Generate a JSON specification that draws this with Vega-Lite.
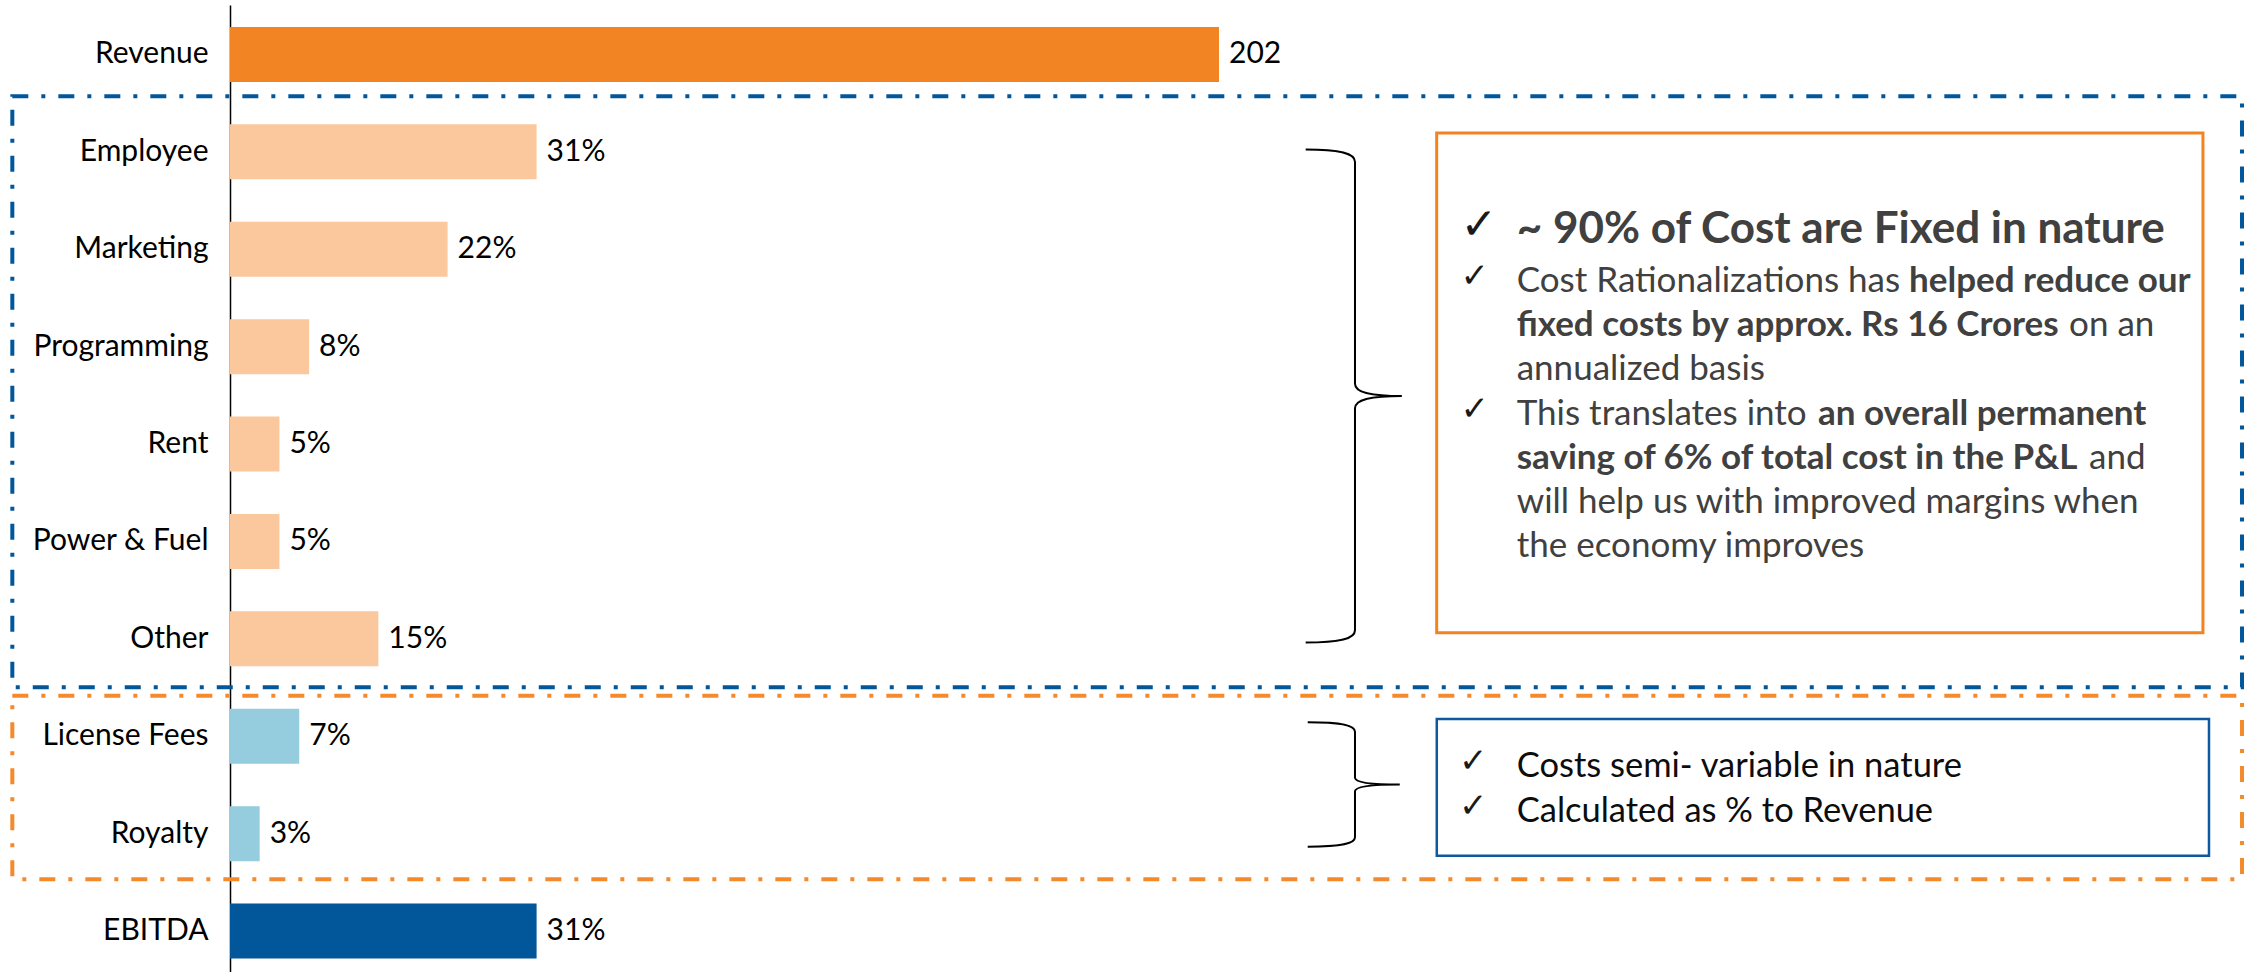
{
  "$schema": "https://vega.github.io/schema/vega-lite/v6.json",
  "width": 2014,
  "height": 967,
  "autosize": "none",
  "padding": {"left": 230, "top": 5, "right": 0, "bottom": 0},
  "config": {"view": {"stroke": null}, "font": "Lato"},
  "datasets": {
    "costs": [
      {"item": "Revenue", "share": 1.0, "label": "202", "group": "Revenue"},
      {"item": "Employee", "share": 0.31, "label": "31%", "group": "Fixed"},
      {"item": "Marketing", "share": 0.22, "label": "22%", "group": "Fixed"},
      {"item": "Programming", "share": 0.08, "label": "8%", "group": "Fixed"},
      {"item": "Rent", "share": 0.05, "label": "5%", "group": "Fixed"},
      {"item": "Power & Fuel", "share": 0.05, "label": "5%", "group": "Fixed"},
      {"item": "Other", "share": 0.15, "label": "15%", "group": "Fixed"},
      {"item": "License Fees", "share": 0.07, "label": "7%", "group": "Variable"},
      {"item": "Royalty", "share": 0.03, "label": "3%", "group": "Variable"},
      {"item": "EBITDA", "share": 0.31, "label": "31%", "group": "EBITDA"}
    ],
    "headlineCheck": [
      {"x": 1.2442, "row": 1.935}
    ],
    "checks": [
      {"x": 1.2442, "row": 2.438},
      {"x": 1.2442, "row": 3.804},
      {"x": 1.2427, "row": 7.418},
      {"x": 1.2427, "row": 7.877}
    ],
    "headline": [
      {"x": 1.301, "row": 1.935, "text": "~ 90% of Cost are Fixed in nature"}
    ],
    "bodyRegular": [
      {"x": 1.301, "row": 2.438, "text": "Cost Rationalizations has"},
      {"x": 1.8595, "row": 2.89, "text": "on an"},
      {"x": 1.301, "row": 3.342, "text": "annualized basis"},
      {"x": 1.301, "row": 3.804, "text": "This translates into"},
      {"x": 1.8797, "row": 4.256, "text": "and"},
      {"x": 1.301, "row": 4.707, "text": "will help us with improved margins when"},
      {"x": 1.301, "row": 5.159, "text": "the economy improves"}
    ],
    "bodyBold": [
      {"x": 1.6977, "row": 2.438, "text": "helped reduce our"},
      {"x": 1.301, "row": 2.89, "text": "fixed costs by approx. Rs 16 Crores"},
      {"x": 1.6057, "row": 3.804, "text": "an overall permanent"},
      {"x": 1.301, "row": 4.256, "text": "saving of 6% of total cost in the P&L"}
    ],
    "variableNotes": [
      {"x": 1.301, "row": 7.418, "text": "Costs semi- variable in nature"},
      {"x": 1.301, "row": 7.877, "text": "Calculated as % to Revenue"}
    ]
  },
  "layer": [
    {
      "encoding": {
        "x": {"type": "quantitative", "scale": {"domain": [0, 2.0364]}, "axis": null},
        "y": {"type": "quantitative", "scale": {"domain": [-0.508, 9.42], "reverse": true, "nice": false, "zero": false}, "axis": null}
      },
      "layer": [
        {
          "data": {"values": [{"x0": -0.2201, "x1": 2.0344, "r0": 0.429, "r1": 6.497}]},
          "mark": {"type": "rect", "filled": false, "stroke": "#02579B", "strokeWidth": 4, "strokeDash": [16, 13, 4, 13]},
          "encoding": {"x": {"field": "x0"}, "x2": {"field": "x1"}, "y": {"field": "r0"}, "y2": {"field": "r1"}}
        },
        {
          "data": {"values": [{"x0": -0.2201, "x1": 2.0344, "r0": 6.583, "r1": 8.468}]},
          "mark": {"type": "rect", "filled": false, "stroke": "#F58A2C", "strokeWidth": 4, "strokeDash": [16, 13, 4, 13]},
          "encoding": {"x": {"field": "x0"}, "x2": {"field": "x1"}, "y": {"field": "r0"}, "y2": {"field": "r1"}}
        },
        {
          "data": {"values": [{"x0": 1.2201, "x1": 1.9949, "r0": 0.806, "r1": 5.936}]},
          "mark": {"type": "rect", "filled": false, "stroke": "#F38321", "strokeWidth": 3},
          "encoding": {"x": {"field": "x0"}, "x2": {"field": "x1"}, "y": {"field": "r0"}, "y2": {"field": "r1"}}
        },
        {
          "data": {"values": [{"x0": 1.2202, "x1": 2.001, "r0": 6.822, "r1": 8.226}]},
          "mark": {"type": "rect", "filled": false, "stroke": "#0E58A0", "strokeWidth": 2.5},
          "encoding": {"x": {"field": "x0"}, "x2": {"field": "x1"}, "y": {"field": "r0"}, "y2": {"field": "r1"}}
        },
        {
          "data": {"values": [{"x": 1.1375, "row": 3.506}]},
          "mark": {
            "type": "point", "filled": false, "opacity": 1, "stroke": "#000000", "strokeWidth": 2, "size": 243049,
            "shape": "M-0.2,-1 C-0.06,-1 0,-0.985 0,-0.95 L0,-0.05 C0,-0.015 0.06,0 0.19,0 C0.06,0 0,0.015 0,0.05 L0,0.95 C0,0.985 -0.06,1 -0.2,1"
          },
          "encoding": {"x": {"field": "x"}, "y": {"field": "row"}}
        },
        {
          "data": {"values": [{"x": 1.1375, "row": 7.495}]},
          "mark": {
            "type": "point", "filled": false, "opacity": 1, "stroke": "#000000", "strokeWidth": 2, "size": 15475,
            "shape": "M-0.76,-1 C-0.2,-1 0,-0.95 0,-0.85 L0,-0.11 C0,-0.04 0.2,0 0.72,0 C0.2,0 0,0.04 0,0.11 L0,0.85 C0,0.95 -0.2,1 -0.76,1"
          },
          "encoding": {"x": {"field": "x"}, "y": {"field": "row"}}
        },
        {
          "data": {"name": "headlineCheck"},
          "mark": {"type": "text", "font": "DejaVu Sans", "fontSize": 44, "color": "#1A1A1A", "align": "left", "baseline": "alphabetic", "dy": -4},
          "encoding": {"x": {"field": "x"}, "y": {"field": "row"}, "text": {"value": "✓"}}
        },
        {
          "data": {"name": "checks"},
          "mark": {"type": "text", "font": "DejaVu Sans", "fontSize": 34, "color": "#1A1A1A", "align": "left", "baseline": "alphabetic", "dy": -5},
          "encoding": {"x": {"field": "x"}, "y": {"field": "row"}, "text": {"value": "✓"}}
        },
        {
          "data": {"name": "headline"},
          "mark": {"type": "text", "font": "Lato", "fontSize": 44, "fontWeight": "bold", "color": "#404040", "align": "left", "baseline": "alphabetic"},
          "encoding": {"x": {"field": "x"}, "y": {"field": "row"}, "text": {"field": "text"}}
        },
        {
          "data": {"name": "bodyRegular"},
          "mark": {"type": "text", "font": "Lato", "fontSize": 35, "color": "#404040", "align": "left", "baseline": "alphabetic"},
          "encoding": {"x": {"field": "x"}, "y": {"field": "row"}, "text": {"field": "text"}}
        },
        {
          "data": {"name": "bodyBold"},
          "mark": {"type": "text", "font": "Lato", "fontSize": 35, "fontWeight": "bold", "color": "#404040", "align": "left", "baseline": "alphabetic"},
          "encoding": {"x": {"field": "x"}, "y": {"field": "row"}, "text": {"field": "text"}}
        },
        {
          "data": {"name": "variableNotes"},
          "mark": {"type": "text", "font": "Lato", "fontSize": 34.5, "color": "#0D0D0D", "align": "left", "baseline": "alphabetic"},
          "encoding": {"x": {"field": "x"}, "y": {"field": "row"}, "text": {"field": "text"}}
        }
      ]
    },
    {
      "data": {"name": "costs"},
      "encoding": {
        "y": {
          "field": "item", "type": "nominal", "sort": null,
          "scale": {"paddingInner": 0.435, "paddingOuter": 0.1815, "align": 0.62},
          "axis": {
            "title": null, "ticks": false, "labelPadding": 22, "labelFontSize": 30, "labelFont": "Lato",
            "labelColor": "#000000", "labelLimit": 400, "domainColor": "#000000", "domainWidth": 1.5, "grid": false
          }
        },
        "x": {"field": "share", "type": "quantitative", "scale": {"domain": [0, 2.0364]}, "axis": null}
      },
      "layer": [
        {
          "mark": {"type": "bar"},
          "encoding": {
            "color": {
              "field": "group", "type": "nominal", "legend": null,
              "scale": {"domain": ["Revenue", "Fixed", "Variable", "EBITDA"], "range": ["#F38423", "#FAC89C", "#96CDDE", "#02579A"]}
            }
          }
        },
        {
          "mark": {"type": "text", "align": "left", "baseline": "middle", "dx": 10, "fontSize": 30, "font": "Lato", "color": "#000000"},
          "encoding": {"text": {"field": "label"}}
        }
      ]
    }
  ],
  "resolve": {"scale": {"y": "independent"}}
}
